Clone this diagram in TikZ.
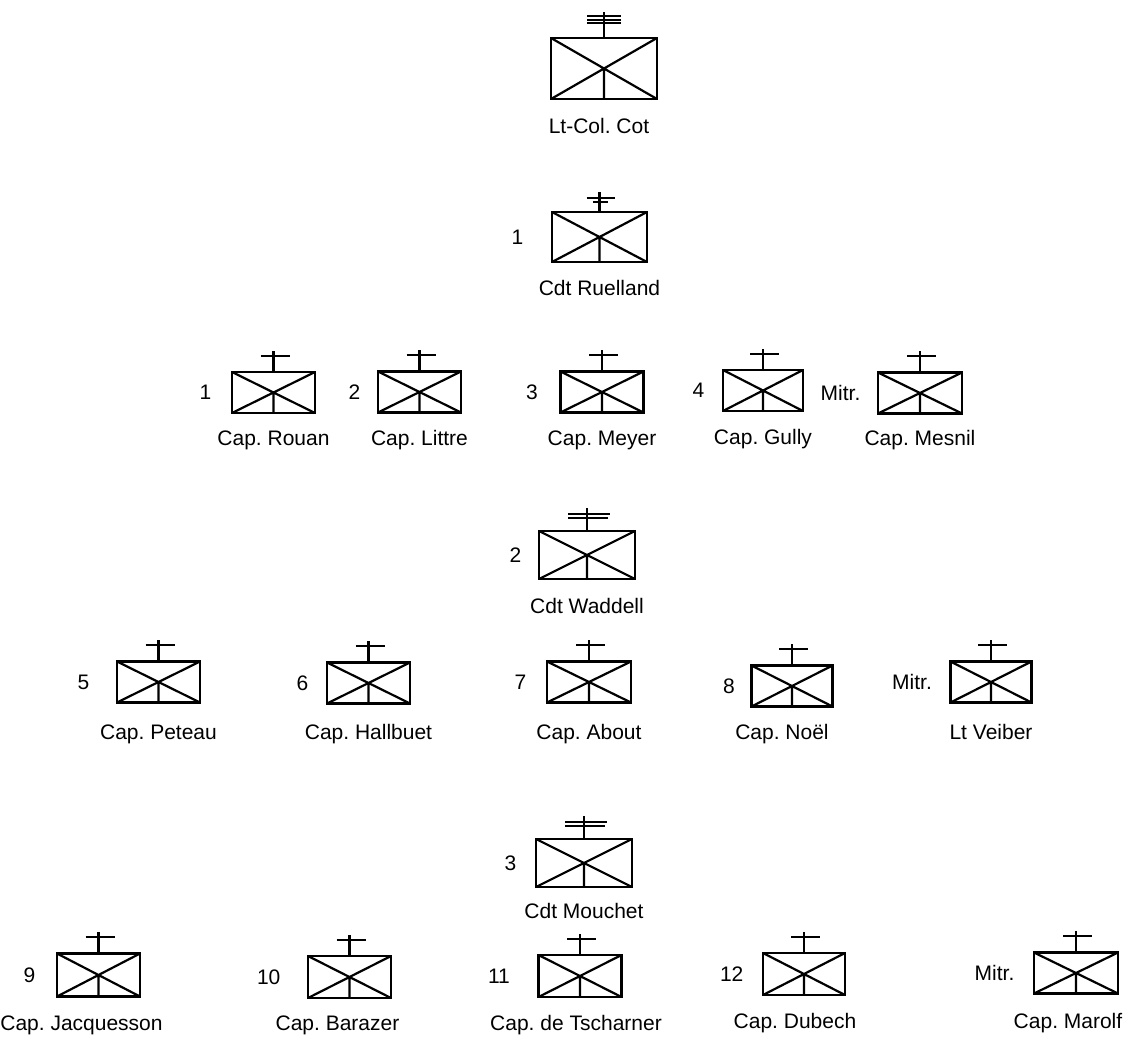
\documentclass[tikz,border=0pt]{standalone}
\usepackage{fontspec}
\setmainfont{Liberation Sans}
\usetikzlibrary{positioning, calc}

\begin{document}
\frenchspacing
\begin{tikzpicture}[x=1pt, y=-1pt, node distance=16pt]
    \tikzstyle{armsbox} = [rectangle, draw=black, line width=2.8pt, inner sep=0pt,
        path picture={\draw[line width=2.2pt]
            (path picture bounding box.north west) -- (path picture bounding box.south east)
            (path picture bounding box.south west) -- (path picture bounding box.north east)
            (path picture bounding box.center) -- (path picture bounding box.south);}]
    \tikzstyle{coy} = [armsbox, minimum width=83pt, minimum height=41pt]
    \tikzstyle{bn} = [armsbox, minimum width=96pt, minimum height=48pt]
    \tikzstyle{stemline} = [line width=2.2pt]
    \tikzstyle{nametext} = [font=\fontsize{21}{24}\selectfont, inner sep=0pt, text height=15pt, text depth=4pt]
    \tikzstyle{numtext} = [font=\fontsize{21}{24}\selectfont, inner sep=0pt]

    \useasboundingbox (0,0) rectangle (1133,1037);

    % regiment
    \node (cot) [armsbox, minimum width=106pt, minimum height=61pt] at (604,68.5) {};
    \node (cot-lbl) [nametext, below=18pt of cot, xshift=-5pt] {Lt-Col. Cot};

    % 1st battalion
    \node (ruelland) [bn, minimum width=95pt, minimum height=50pt] at (599.5,237) {};
    \node (ruelland-no) [numtext, left=27pt of ruelland] {1};
    \node (ruelland-lbl) [nametext, below=17pt of ruelland] {Cdt Ruelland};

    \node (rouan) [coy] at (273.5,392.5) {};
    \node (littre) [coy] at (419.5,392) {};
    \node (meyer) [coy] at (602,392) {};
    \node (gully) [coy, minimum width=80pt] at (763,390.5) {};
    \node (mesnil) [coy, minimum width=84pt] at (920,393) {};

    \node (rouan-no) [numtext, left=19pt of rouan] {1};
    \node (littre-no) [numtext, left=16pt of littre] {2};
    \node (meyer-no) [numtext, left=21pt of meyer] {3};
    \node (gully-no) [numtext, left=17pt of gully] {4};
    \node (mesnil-no) [numtext, left=16pt of mesnil] {Mitr.};

    \node (rouan-lbl) [nametext, below=16pt of rouan] {Cap. Rouan};
    \node (littre-lbl) [nametext, below=16pt of littre] {Cap. Littre};
    \node (meyer-lbl) [nametext, below=16pt of meyer] {Cap. Meyer};
    \node (gully-lbl) [nametext, below=17pt of gully] {Cap. Gully};
    \node (mesnil-lbl) [nametext, below=15pt of mesnil] {Cap. Mesnil};

    % 2nd battalion
    \node (waddell) [bn] at (587,555) {};
    \node (waddell-no) [numtext, left=16pt of waddell] {2};
    \node (waddell-lbl) [nametext, below=18pt of waddell] {Cdt Waddell};

    \node (peteau) [coy] at (158.5,682) {};
    \node (hallbuet) [coy] at (368.5,683) {};
    \node (about) [coy, minimum width=84pt] at (589,682) {};
    \node (noel) [coy, minimum width=81pt] at (792,686) {};
    \node (veiber) [coy, minimum width=81pt] at (991,682) {};

    \node (peteau-no) [numtext, left=26pt of peteau] {5};
    \node (hallbuet-no) [numtext, left=17pt of hallbuet] {6};
    \node (about-no) [numtext, left=19pt of about] {7};
    \node (noel-no) [numtext, left=15pt of noel] {8};
    \node (veiber-no) [numtext, left=17pt of veiber] {Mitr.};

    \node (peteau-lbl) [nametext, below=20pt of peteau] {Cap. Peteau};
    \node (hallbuet-lbl) [nametext, below=19pt of hallbuet] {Cap. Hallbuet};
    \node (about-lbl) [nametext, below=20pt of about] {Cap. About};
    \node (noel-lbl) [nametext, below=16pt of noel, xshift=-10pt] {Cap. Noël};
    \node (veiber-lbl) [nametext, below=20pt of veiber] {Lt Veiber};

    % 3rd battalion
    \node (mouchet) [bn] at (584,863) {};
    \node (mouchet-no) [numtext, left=18pt of mouchet] {3};
    \node (mouchet-lbl) [nametext, below=15pt of mouchet] {Cdt Mouchet};

    \node (jacquesson) [coy, minimum height=43pt] at (98.5,975) {};
    \node (barazer) [coy, minimum height=42pt] at (349.5,977) {};
    \node (tscharner) [coy, minimum height=42pt] at (580,976) {};
    \node (dubech) [coy, minimum width=82pt, minimum height=42pt] at (804,974) {};
    \node (marolf) [coy, minimum width=84pt, minimum height=41pt] at (1076,973) {};

    \node (jacquesson-no) [numtext, left=20pt of jacquesson] {9};
    \node (barazer-no) [numtext, left=26pt of barazer] {10};
    \node (tscharner-no) [numtext, left=27pt of tscharner] {11};
    \node (dubech-no) [numtext, left=18pt of dubech] {12};
    \node (marolf-no) [numtext, left=18pt of marolf] {Mitr.};

    \node (jacquesson-lbl) [nametext, below=17pt of jacquesson, xshift=-17pt] {Cap. Jacquesson};
    \node (barazer-lbl) [nametext, below=16pt of barazer, xshift=-12pt] {Cap. Barazer};
    \node (tscharner-lbl) [nametext, below=17pt of tscharner, xshift=-4pt] {Cap. de Tscharner};
    \node (dubech-lbl) [nametext, below=17pt of dubech, xshift=-9pt] {Cap. Dubech};
    \node (marolf-lbl) [nametext, below=18pt of marolf, xshift=-8pt] {Cap. Marolf};

    % stems and bars
    \draw[stemline] (cot.north) -- ++(0,-25) ++(-17,4) -- ++(34,0) ++(-34,4) -- ++(34,0) ++(0,3) -- ++(-34,0);
    \draw[stemline] (ruelland.north) -- ++(0,-19) ++(-13,6) -- ++(28,0) ++(-7,4) -- ++(-15,0);
    \foreach \u in {waddell, mouchet}
        \draw[stemline] (\u.north) -- ++(0,-22) ++(-19,6) -- ++(42,0) ++(-2,4) -- ++(-40,0);
    \foreach \u in {rouan, littre, meyer, gully, mesnil, peteau, hallbuet, about, noel, veiber,
                    jacquesson, barazer, tscharner, dubech, marolf}
        \draw[stemline] (\u.north) -- ++(0,-20) ++(-13,5) -- ++(29,0);
\end{tikzpicture}
\end{document}
